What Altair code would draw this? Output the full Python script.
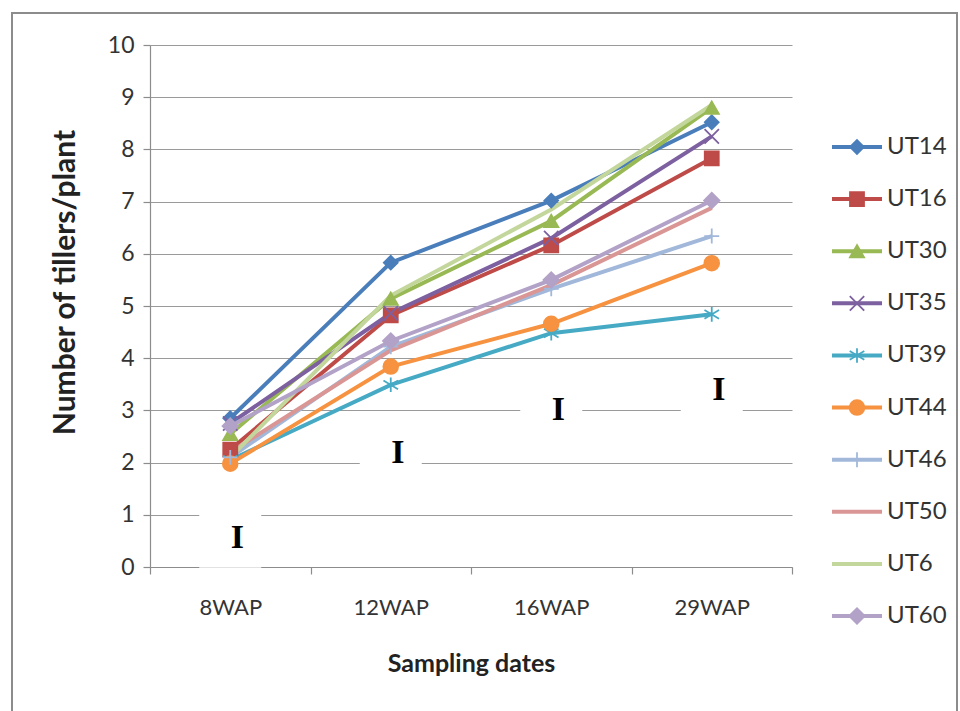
import altair as alt
import pandas as pd

# ---- data ----
dates = ["8WAP", "12WAP", "16WAP", "29WAP"]
series = ["UT14", "UT16", "UT30", "UT35", "UT39", "UT44", "UT46", "UT50", "UT6", "UT60"]
UT14 = [2.85, 5.83, 7.02, 8.52]
UT16 = [2.25, 4.82, 6.16, 7.83]
UT30 = [2.55, 5.14, 6.63, 8.80]
UT35 = [2.75, 4.86, 6.30, 8.25]
UT39 = [2.05, 3.49, 4.48, 4.84]
UT44 = [1.98, 3.84, 4.66, 5.82]
UT46 = [2.10, 4.22, 5.33, 6.34]
UT50 = [2.20, 4.15, 5.40, 6.88]
UT6 = [2.10, 5.20, 6.85, 8.85]
UT60 = [2.70, 4.33, 5.50, 7.02]
values = [UT14, UT16, UT30, UT35, UT39, UT44, UT46, UT50, UT6, UT60]
# error bars ("I") drawn as text, at this height
err_y = [0.56, 2.18, 3.00, 3.40]

colors = ["#4A7EBB", "#BE4B48", "#98B954", "#7D60A0", "#46AAC5",
          "#F69240", "#A2B8DA", "#D99694", "#C3D69B", "#B3A2C7"]
shapes = ["diamond", "square", "triangle-up",
          "M-1,-1L1,1M1,-1L-1,1",
          "M0,-1L0,1M-1,-0.6L1,0.6M-1,0.6L1,-0.6",
          "circle",
          "M-1,0L1,0M0,-1L0,1",
          "circle", "circle", "diamond"]
sizes = [190, 240, 210, 150, 190, 240, 240, 0, 0, 190]

rows = []
for s, vals in zip(series, values):
    for d, v in zip(dates, vals):
        rows.append({"series": s, "date": d, "value": v})
df = pd.DataFrame(rows)
df_err = pd.DataFrame({"date": dates, "value": err_y, "label": ["I"] * 4})
df_leg = pd.DataFrame({"series": series, "idx": list(range(len(series)))})

FONT = "Lato"
color_scale = alt.Scale(domain=series, range=colors)
shape_scale = alt.Scale(domain=series, range=shapes)
size_scale = alt.Scale(domain=series, range=sizes)

x_enc = alt.X("date:N", sort=dates,
              scale=alt.Scale(domain=dates, paddingInner=0, paddingOuter=0),
              axis=alt.Axis(title="Sampling dates", tickBand="extent", tickSize=7,
                            labelAngle=0, labelPadding=23, titlePadding=33,
                            labelFontSize=22, titleFontSize=25))
y_enc = alt.Y("value:Q", scale=alt.Scale(domain=[0, 10]),
              axis=alt.Axis(title="Number of tillers/plant", values=list(range(11)),
                            tickSize=7, labelPadding=9, labelFontSize=23,
                            titleFontSize=30, titleX=-85, titleY=237,
                            titleAlign="center", titleBaseline="middle", grid=True))

base = alt.Chart(df)

boxes = alt.Chart(df_err).mark_tick(color="white", thickness=60, size=62, opacity=1).encode(
    x=x_enc, y=y_enc)

lines = base.mark_line(strokeWidth=4).encode(
    x=x_enc, y=y_enc,
    color=alt.Color("series:N", scale=color_scale, legend=None),
    order=alt.Order("date_idx:Q"),
).transform_calculate(
    date_idx="indexof(['8WAP','12WAP','16WAP','29WAP'], datum.date)")

points = base.transform_filter(
    "indexof(['UT50','UT6'], datum.series) < 0"
).mark_point(filled=True, strokeWidth=1.8, opacity=1).encode(
    x=x_enc, y=y_enc,
    color=alt.Color("series:N", scale=color_scale, legend=None),
    stroke=alt.Stroke("series:N", scale=color_scale, legend=None),
    shape=alt.Shape("series:N", scale=shape_scale, legend=None),
    size=alt.Size("series:N", scale=size_scale, legend=None),
)

err_text = alt.Chart(df_err).mark_text(
    font="Liberation Serif", fontWeight="bold", fontSize=34, dx=7, baseline="middle",
    color="black").encode(x=x_enc, y=y_enc, text="label:N")

leg_y = alt.Y("idx:Q", scale=alt.Scale(domain=[0, 9], range=[102, 571]), axis=None)
leg_rules = alt.Chart(df_leg).mark_rule(strokeWidth=4).encode(
    x=alt.value(682), x2=alt.value(732), y=leg_y,
    color=alt.Color("series:N", scale=color_scale, legend=None))
leg_points = alt.Chart(df_leg).transform_filter(
    "indexof(['UT50','UT6'], datum.series) < 0"
).mark_point(filled=True, strokeWidth=1.8, opacity=1).encode(
    x=alt.value(707), y=leg_y,
    color=alt.Color("series:N", scale=color_scale, legend=None),
    stroke=alt.Stroke("series:N", scale=color_scale, legend=None),
    shape=alt.Shape("series:N", scale=shape_scale, legend=None),
    size=alt.Size("series:N", scale=size_scale, legend=None))
leg_text = alt.Chart(df_leg).mark_text(
    align="left", baseline="middle", font=FONT, fontSize=24, color="#333333").encode(
    x=alt.value(737), y=leg_y, text="series:N")

frame = alt.Chart(pd.DataFrame({"a": [0]})).mark_rect(
    fillOpacity=0, stroke="#8c8c8c", strokeWidth=2).encode(
    x=alt.value(-138), x2=alt.value(807), y=alt.value(-32), y2=alt.value(690))

main = alt.layer(boxes, lines, points, err_text)
legend = alt.layer(leg_rules, leg_points, leg_text)

chart = alt.layer(main, legend, frame).resolve_scale(
    y="independent"
).properties(
    width=642, height=522,
    autosize=alt.AutoSizeParams(type="none"),
    padding={"left": 150, "top": 45, "right": 168, "bottom": 144},
    background="white",
).configure_view(stroke=None).configure_axis(
    labelFont=FONT, titleFont=FONT, labelColor="#333333", titleColor="#222222",
    titleFontWeight="bold", domainColor="#8c8c8c", tickColor="#8c8c8c",
    gridColor="#9a9a9a", gridWidth=1, domainWidth=1.2, tickWidth=1.2,
)

chart.save("out.html", embed_options={"renderer": "svg", "actions": False})
